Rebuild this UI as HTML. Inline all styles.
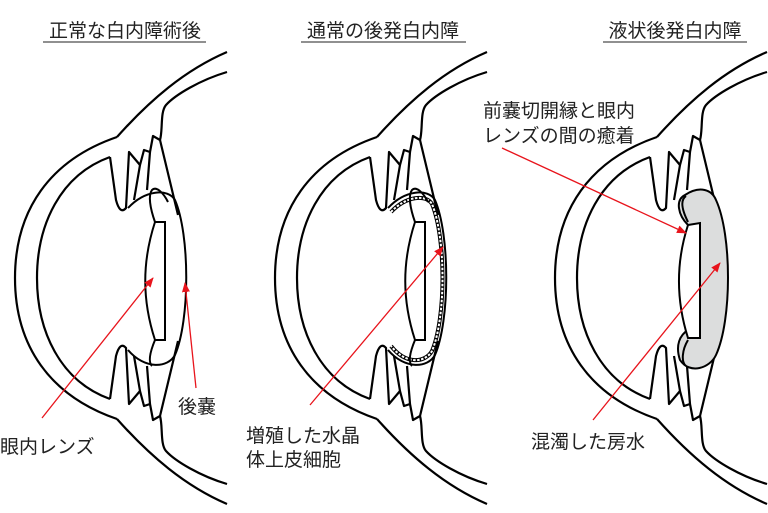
<!DOCTYPE html><html><head><meta charset="utf-8"><style>
body{margin:0;background:#fff;width:768px;height:513px;overflow:hidden}
svg{display:block}
text{font-family:"Liberation Sans","Noto Sans CJK JP",sans-serif;font-size:19px;fill:#222}
</style></head><body>
<svg width="768" height="513" viewBox="0 0 768 513">
<defs>
<marker id="ar" markerWidth="10" markerHeight="8" refX="9" refY="4" orient="auto" markerUnits="userSpaceOnUse"><path d="M0,0 L10,4 L0,8 Z" fill="#e8141c"/></marker>
<g id="half" fill="none" stroke="#000" stroke-width="2.2" stroke-linejoin="round">
<path d="M227,52 C185,70 150,100 117,137"/>
<path d="M227,72 C200,80 175,95 166,105 C160,112 163,130 160,140"/>
<path d="M117,137 C50,160 15,210 15,278"/>
<path d="M110,157 C60,175 37,225 37,278"/>
<path d="M110,157 L116,200 Q120,215 126,208 L129,152 L140,165 L144,150 L150,152 L153,136 L160,140"/>
<path d="M140,165 L134,200 M150,152 L147,190 M160,140 L178,215"/>
</g>
<g id="eye">
<use href="#half"/>
<use href="#half" transform="translate(0,556) scale(1,-1)"/>
</g>
</defs>
<use href="#eye"/>
<g fill="none" stroke="#000" stroke-width="2">
<path d="M128,208 C145,190 168,188 175,200 C190,235 190,320 175,355 C168,368 145,370 128,350"/>
<path d="M155,222 L165,222 L165,340 L155,340 C142,300 142,262 155,222 Z" fill="#fff"/>
<path d="M155,222 C150,208 148,195 152,190 C156,186 163,192 168,202"/>
<path d="M155,340 C150,352 148,362 152,366"/>
</g>
<g transform="translate(260,0)">
<use href="#eye"/>
<g fill="none" stroke="#000" stroke-width="2">
<path d="M128,208 C145,190 168,188 175,200 C190,235 190,320 175,355 C168,368 145,370 128,350"/>
<path d="M131,212 C146,196 166,194 172,204 C186,238 186,318 172,351 C165,363 146,365 131,346" stroke-width="4"/>
<path d="M131,212 C146,196 166,194 172,204 C186,238 186,318 172,351 C165,363 146,365 131,346" stroke="#fff" stroke-width="2" stroke-dasharray="2.5 1.5"/>
<path d="M155,222 L165,222 L165,340 L155,340 C142,300 142,262 155,222 Z" fill="#fff"/>
<path d="M155,222 C150,208 148,195 152,190 C156,186 163,192 168,202"/>
<path d="M155,340 C150,352 148,362 152,366"/>
</g>
</g>
<g transform="translate(540,0)">
<use href="#eye"/>
<g fill="none" stroke="#000" stroke-width="2">
<path d="M145,195 C160,185 172,190 176,200 C192,235 192,320 176,355 C170,368 150,375 140,360 C135,345 140,335 148,330 L148,225 C138,215 135,200 145,195 Z" fill="#dcdddd"/>
<path d="M148,225 L160,223 L160,338 L148,338 C136,300 136,262 148,225 Z" fill="#fff"/>
<path d="M148,222 C142,210 140,200 146,196 M148,340 C142,350 141,362 146,366"/>
</g>
</g>
<g stroke="#e8141c" stroke-width="1.3" fill="none" marker-end="url(#ar)">
<line x1="42" y1="418" x2="153" y2="278"/>
<line x1="196" y1="388" x2="185" y2="283"/>
<line x1="310" y1="405" x2="443" y2="247"/>
<line x1="502" y1="148" x2="686" y2="233"/>
<line x1="593" y1="420" x2="720" y2="263"/>
</g>
<text x="125" y="37" text-anchor="middle">正常な白内障術後</text>
<text x="383" y="37" text-anchor="middle">通常の後発白内障</text>
<text x="675" y="37" text-anchor="middle">液状後発白内障</text>
<line x1="43" y1="42" x2="206" y2="42" stroke="#222" stroke-width="1"/>
<line x1="301" y1="42" x2="466" y2="42" stroke="#222" stroke-width="1"/>
<line x1="603" y1="42" x2="747" y2="42" stroke="#222" stroke-width="1"/>
<text x="178" y="413">後嚢</text>
<text x="0" y="453">眼内レンズ</text>
<text x="246" y="442">増殖した水晶</text>
<text x="246" y="466">体上皮細胞</text>
<text x="483" y="117">前嚢切開縁と眼内</text>
<text x="483" y="142">レンズの間の癒着</text>
<text x="531" y="448">混濁した房水</text>
</svg>
</body></html>
